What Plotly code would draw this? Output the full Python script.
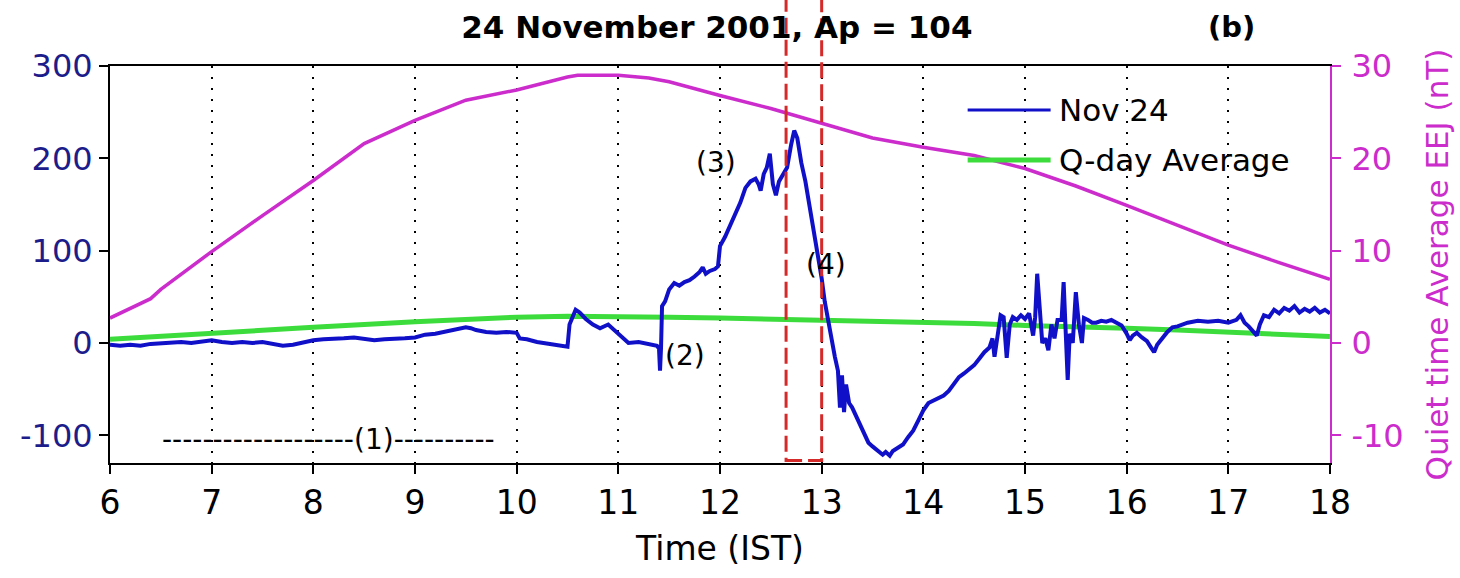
import plotly.graph_objects as go

# ---- data ---------------------------------------------------------------
# Nov 24 EEJ (nT), IST hours
nov24_time = [
    6.00, 6.10, 6.20, 6.30, 6.40, 6.50, 6.60, 6.70, 6.80, 6.90,
    7.00, 7.10, 7.20, 7.30, 7.40, 7.50, 7.60, 7.70, 7.80, 7.90,
    8.00, 8.10, 8.20, 8.30, 8.40, 8.50, 8.60, 8.70, 8.80, 8.90,
    9.00, 9.10, 9.20, 9.30, 9.40, 9.50, 9.55, 9.60, 9.70, 9.80,
    9.90, 10.00, 10.03, 10.10, 10.20, 10.30, 10.40, 10.50, 10.52, 10.58,
    10.62, 10.68, 10.75, 10.82, 10.90, 10.95, 11.02, 11.10, 11.20, 11.30,
    11.38, 11.40, 11.41, 11.42, 11.43, 11.46, 11.50, 11.55, 11.60, 11.65,
    11.70, 11.75, 11.80, 11.83, 11.86, 11.90, 11.95, 11.98, 12.00, 12.05,
    12.10, 12.15, 12.20, 12.25, 12.30, 12.35, 12.38, 12.40, 12.43, 12.46,
    12.49, 12.52, 12.55, 12.58, 12.62, 12.66, 12.70, 12.73, 12.76, 12.80,
    12.84, 12.88, 12.92, 12.96, 13.00, 13.03, 13.06, 13.10, 13.13, 13.16,
    13.18, 13.20, 13.22, 13.24, 13.27, 13.30, 13.34, 13.38, 13.42, 13.46,
    13.50, 13.55, 13.60, 13.63, 13.67, 13.70, 13.75, 13.80, 13.85, 13.90,
    13.95, 14.00, 14.05, 14.10, 14.15, 14.20, 14.25, 14.30, 14.35, 14.40,
    14.45, 14.50, 14.55, 14.60, 14.65, 14.68, 14.70, 14.73, 14.76, 14.79,
    14.82, 14.85, 14.88, 14.92, 14.96, 15.00, 15.04, 15.08, 15.10, 15.12,
    15.15, 15.17, 15.20, 15.23, 15.26, 15.29, 15.32, 15.36, 15.38, 15.40,
    15.42, 15.44, 15.47, 15.50, 15.53, 15.56, 15.58, 15.62, 15.66, 15.70,
    15.75, 15.80, 15.85, 15.90, 15.95, 16.00, 16.03, 16.06, 16.10, 16.15,
    16.20, 16.24, 16.27, 16.30, 16.35, 16.40, 16.45, 16.50, 16.60, 16.70,
    16.80, 16.90, 17.00, 17.08, 17.12, 17.16, 17.20, 17.25, 17.28, 17.31,
    17.35, 17.40, 17.45, 17.50, 17.55, 17.60, 17.65, 17.70, 17.75, 17.80,
    17.85, 17.90, 17.95, 18.00,
]
nov24_eej = [
    -2, -3, -2, -3, -1, 0, 0, 1, 0, 2,
    3, 1, 0, 1, 0, 1, -1, -3, -2, 1,
    3, 4, 4, 5, 6, 4, 3, 4, 4, 5,
    6, 9, 10, 12, 15, 17, 16, 14, 12, 11,
    12, 11, 5, 4, 1, -1, -2, -4, 20, 36,
    33, 26, 20, 16, 20, 15, 7, 0, 1, -1,
    -3, -6, -30, -5, 40, 45, 58, 65, 62, 66,
    68, 72, 77, 82, 75, 78, 80, 83, 105, 115,
    128, 140, 152, 168, 175, 178, 172, 165, 183, 190,
    205, 172, 160, 175, 182, 190, 215, 230, 222, 195,
    175, 150, 122, 95, 70, 45, 25, 5, -15, -30,
    -70, -35, -75, -45, -65, -70, -80, -90, -100, -108,
    -112, -117, -121, -118, -122, -117, -114, -110, -102, -95,
    -84, -73, -65, -62, -59, -57, -52, -45, -37, -33,
    -29, -24, -17, -10, -5, 5, -15, 8, 30, 28,
    -16, 20, 28, 25, 30, 26, 32, 8, 28, 75,
    30, 0, 5, -8, 20, 5, 25, 25, 66, 20,
    -40, 10, 0, 55, 20, 0, 27, 25, 22, 22,
    24, 23, 25, 22, 19, 10, 3, 8, 11, 6,
    2, -5, -10, -2, 5, 12, 17, 18, 22, 24,
    23, 24, 22, 25, 30, 22, 18, 12, 8, 20,
    30, 28, 36, 32, 38, 35, 40, 33, 37, 34,
    38, 33, 36, 32,
]

# Quiet-day average of the same station (left axis)
qday_time = [6, 7, 8, 9, 10, 10.5, 11, 11.5, 12, 12.5, 13, 13.5, 14,
             14.5, 15, 15.5, 16, 16.5, 17, 17.5, 18]
qday_eej = [4, 11, 17, 23, 28, 29, 29, 28, 27, 26, 25, 23, 22,
            21, 19, 18, 16, 14, 12, 9, 7]

# Quiet time average EEJ (right axis)
quiet_time = [6, 6.4, 6.5, 7, 7.5, 8, 8.5, 9, 9.5, 10, 10.5, 10.6, 11,
              11.3, 11.5, 12, 12.5, 13, 13.5, 14, 14.5, 15, 15.5, 16,
              16.5, 17, 17.5, 18]
quiet_eej = [2.7, 4.8, 5.8, 9.9, 13.8, 17.6, 21.6, 24.1, 26.3, 27.4, 28.8,
             29.0, 29.0, 28.7, 28.3, 26.8, 25.4, 23.8, 22.2, 21.2, 20.3,
             18.9, 17.0, 14.9, 12.7, 10.6, 8.7, 6.9]

hour_ticks = list(range(6, 19))
left_ticks = [-100, 0, 100, 200, 300]
left_labels = ["-100", "0", "100", "200", "300"]
right_ticks = [-10, 0, 10, 20, 30]
right_labels = ["-10", "0", "10", "20", "30"]

# time window marked by the dashed box
window_start, window_end = 12.65, 13.0

# ---- styling ------------------------------------------------------------
FONT = "DejaVu Sans"
BLUE = "#1010c8"
NAVY = "#1c1c8a"
GREEN = "#3ddc3d"
MAGENTA = "#cc2ccc"
RED = "#d42a2a"

fig = go.Figure()

fig.add_trace(go.Scatter(
    x=qday_time, y=qday_eej, mode="lines", name="Q-day Average",
    line=dict(color=GREEN, width=5), yaxis="y"))
fig.add_trace(go.Scatter(
    x=nov24_time, y=nov24_eej, mode="lines", name="Nov 24",
    line=dict(color=BLUE, width=4), yaxis="y"))
fig.add_trace(go.Scatter(
    x=quiet_time, y=quiet_eej, mode="lines", name="Quiet time Average",
    line=dict(color=MAGENTA, width=3.5), yaxis="y2"))

# dashed box around the selected interval
fig.add_shape(type="rect", xref="x", yref="paper",
              x0=window_start, x1=window_end, y0=0.006, y1=1.25,
              line=dict(color=RED, width=3, dash="16px,6px"),
              layer="above")

# hand-placed legend
legend_rows = [("Nov 24", BLUE, 3, 0.889), ("Q-day Average", GREEN, 5, 0.763)]
for label, color, width, ypos in legend_rows:
    fig.add_shape(type="line", xref="paper", yref="paper",
                  x0=0.703, x1=0.771, y0=ypos, y1=ypos,
                  line=dict(color=color, width=width))
    fig.add_annotation(xref="paper", yref="paper", x=0.776, y=ypos,
                       text=label, showarrow=False, xanchor="left",
                       yanchor="middle",
                       font=dict(family=FONT, size=31, color="black"))

# event labels
labels = [
    (8.15, -105, "-------------------(1)----------"),
    (11.66, -14, "(2)"),
    (11.96, 195, "(3)"),
    (13.04, 85, "(4)"),
]
for lx, ly, txt in labels:
    fig.add_annotation(x=lx, y=ly, xref="x", yref="y", text=txt,
                       showarrow=False,
                       font=dict(family=FONT, size=28, color="black"))

fig.add_annotation(xref="paper", yref="paper", x=0.919, y=1.098,
                   text="<b>(b)</b>", showarrow=False,
                   xanchor="center", yanchor="middle",
                   font=dict(family=FONT, size=29, color="black"))

fig.update_layout(
    width=1460, height=578,
    margin=dict(l=110, r=130, t=66, b=115),
    paper_bgcolor="white", plot_bgcolor="white",
    showlegend=False,
    title=dict(text="<b>24 November 2001, Ap = 104</b>",
               x=0.491, xanchor="center", y=0.953, yanchor="middle",
               font=dict(family=FONT, size=31, color="black")),
    xaxis=dict(
        range=[6, 18], tickvals=hour_ticks, automargin=False,
        showgrid=True, gridcolor="black", gridwidth=1.5, griddash="2px,9px",
        zeroline=False, showline=True, linecolor="black", linewidth=2,
        mirror=True, ticks="outside", ticklen=9, tickwidth=2,
        tickcolor="black",
        tickfont=dict(family=FONT, size=33, color="black"),
        title=dict(text="Time (IST)", standoff=16,
                   font=dict(family=FONT, size=33, color="black")),
    ),
    yaxis=dict(
        range=[-130, 300], tickvals=left_ticks, ticktext=left_labels,
        automargin=False,
        showgrid=False, zeroline=False, showline=True, linecolor="black",
        linewidth=2, ticks="outside", ticklen=9, tickwidth=2,
        tickcolor="black", ticklabelstandoff=0,
        tickfont=dict(family=FONT, size=32, color=NAVY),
    ),
    yaxis2=dict(
        range=[-13, 30], tickvals=right_ticks, ticktext=right_labels,
        overlaying="y", side="right", automargin=False,
        showgrid=False, zeroline=False, showline=True, linecolor=MAGENTA,
        linewidth=2, ticks="outside", ticklen=9, tickwidth=2,
        tickcolor=MAGENTA, ticklabelstandoff=4,
        tickfont=dict(family=FONT, size=32, color=MAGENTA),
        title=dict(text="Quiet time Average EEJ (nT)", standoff=24,
                   font=dict(family=FONT, size=31, color=MAGENTA)),
    ),
)

fig.write_html("out.html")
